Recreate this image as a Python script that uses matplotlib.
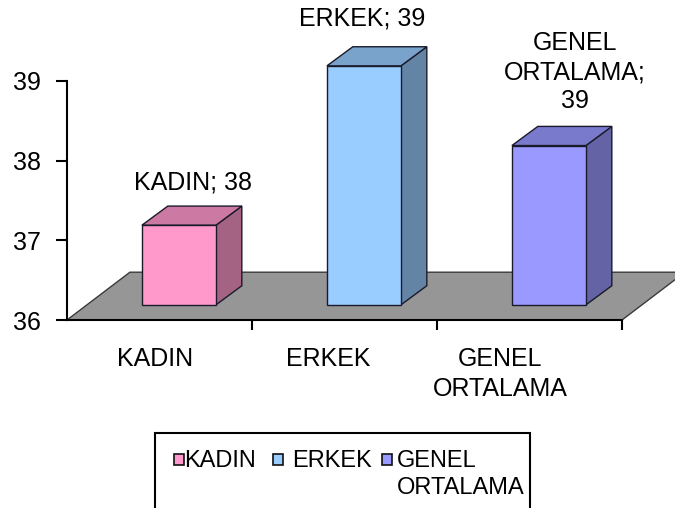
import matplotlib.pyplot as plt
from matplotlib.patches import Polygon, Rectangle

plt.rcParams['font.family'] = ['Liberation Sans', 'DejaVu Sans']

# veriler
kategoriler = ['KADIN', 'ERKEK', 'GENEL\nORTALAMA']
degerler = [37, 39, 38]          # cizilen sutun yukseklikleri
etiket_degerleri = [38, 39, 39]  # grafikte yazan etiketler
renkler = ['#FF99CC', '#99CCFF', '#9999FF']
y_ticks = [36, 37, 38, 39]


def koyu(renk, k):
    r, g, b = [int(renk[i:i + 2], 16) for i in (1, 3, 5)]
    return '#%02x%02x%02x' % (int(r * k), int(g * k), int(b * k))


fig = plt.figure(figsize=(6.75, 5.08), dpi=100)
ax = fig.add_axes([67 / 675, 1 - 320 / 508, 555 / 675, 239 / 508])
ax.set_xlim(0, 3)
ax.set_ylim(36, 39)

# 3d gorunum icin kaydirmalar (veri birimi)
zemin_dx, zemin_dy = 0.34, 0.60
on_dx, on_dy = 0.105, 0.19
der_dx, der_dy = 0.14, 0.24
gen = 0.4
kenar = '#1a1a2a'

# zemin
zemin = Polygon([(0, 36), (zemin_dx, 36 + zemin_dy), (3 + zemin_dx, 36 + zemin_dy), (3, 36)],
                closed=True, facecolor='#969696', edgecolor='#3a3a3a', lw=1.0, clip_on=False, zorder=1)
ax.add_patch(zemin)

etiket_kaydir = [0.075, -0.01, 0.14]
etiket_bosluk = [0.15, 0.2, 0.17]

for i, (v, c) in enumerate(zip(degerler, renkler)):
    x0 = i + 0.3 + on_dx
    y0 = 36 + on_dy
    y1 = v + on_dy
    # yan yuz
    ax.add_patch(Polygon([(x0 + gen, y0), (x0 + gen + der_dx, y0 + der_dy),
                          (x0 + gen + der_dx, y1 + der_dy), (x0 + gen, y1)],
                         closed=True, facecolor=koyu(c, 0.65), edgecolor=kenar, lw=1.0,
                         clip_on=False, zorder=2))
    # ust yuz
    ax.add_patch(Polygon([(x0, y1), (x0 + der_dx, y1 + der_dy),
                          (x0 + gen + der_dx, y1 + der_dy), (x0 + gen, y1)],
                         closed=True, facecolor=koyu(c, 0.8), edgecolor=kenar, lw=1.0,
                         clip_on=False, zorder=2))
    # on yuz
    ax.add_patch(Rectangle((x0, y0), gen, y1 - y0, facecolor=c, edgecolor=kenar, lw=1.0,
                           clip_on=False, zorder=3))
    ad = kategoriler[i].replace('\nORTALAMA', '\nORTALAMA;') if i == 2 else kategoriler[i] + ';'
    metin = ad + ('\n' if i == 2 else ' ') + str(etiket_degerleri[i])
    ax.text(x0 + gen / 2 + etiket_kaydir[i], y1 + der_dy + etiket_bosluk[i], metin,
            ha='center', va='bottom', fontsize=18, linespacing=1.25, clip_on=False)

# eksenler
for s in ['top', 'right']:
    ax.spines[s].set_visible(False)
ax.spines['left'].set_linewidth(1.5)
ax.spines['bottom'].set_linewidth(1.5)
ax.set_yticks(y_ticks)
ax.set_yticklabels([str(t) for t in y_ticks], fontsize=18)
ax.tick_params(axis='y', length=8, width=1.5, pad=11)

ax.set_xticks([1, 2, 3])
ax.set_xticklabels(['', '', ''])
ax.tick_params(axis='x', length=7, width=1.5)
kat_x = [0.476, 1.411, 2.341]
for x, k in zip(kat_x, kategoriler):
    ax.text(x, -0.115, k, transform=ax.get_xaxis_transform(), ha='center', va='top',
            fontsize=18, linespacing=1.3)

# lejant (elle cizildi, alt kenar resmin disinda kaliyor)
fig.patches.append(Rectangle((155 / 675, -0.05), 375 / 675, (508 - 433) / 508 + 0.05,
                             transform=fig.transFigure, facecolor='white',
                             edgecolor='black', lw=1.5, clip_on=False))
lej_kare_x = [174, 273, 382]
lej_yazi_x = [184, 292, 397]
for kx, tx, c, k in zip(lej_kare_x, lej_yazi_x, renkler, kategoriler):
    fig.patches.append(Rectangle((kx / 675, 1 - 465 / 508), 10 / 675, 11 / 508,
                                 transform=fig.transFigure, facecolor=c,
                                 edgecolor='#111111', lw=1.2))
    fig.text(tx / 675, 1 - 450 / 508, k, ha='left', va='top', fontsize=17, linespacing=1.3)

fig.savefig('out.png', dpi=100)
